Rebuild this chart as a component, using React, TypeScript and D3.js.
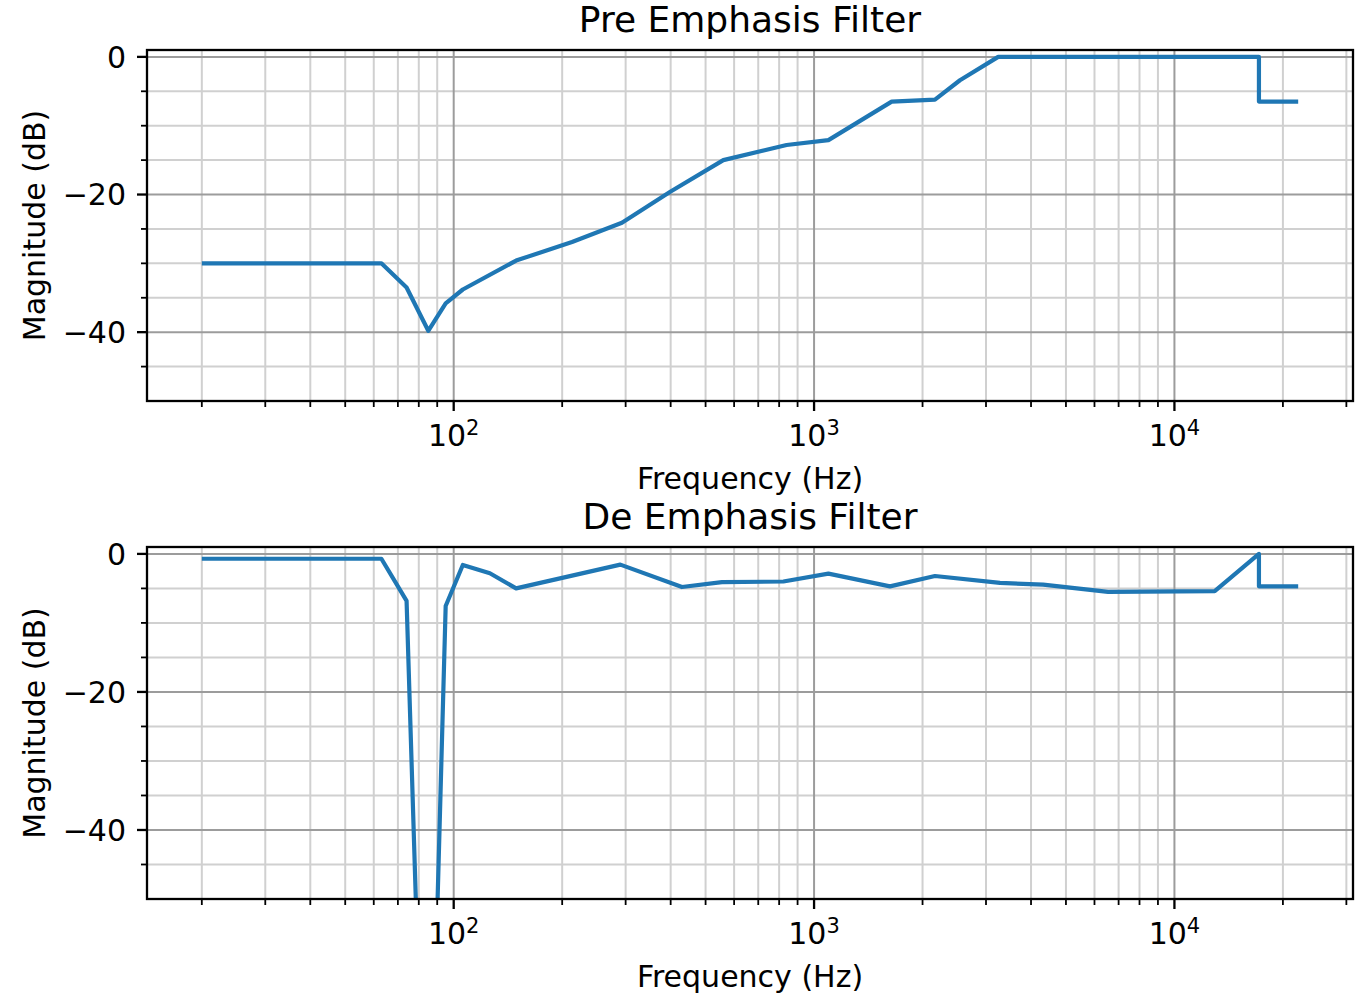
import React from "react";
import * as d3 from "d3";

// ---------- data ----------
const preFreq = [20, 63, 74, 85, 95, 106, 149, 213, 293, 399, 560, 839, 1096, 1642, 2165, 2540, 3243, 17160, 17160, 22050];
const preDb = [-30, -30, -33.5, -39.8, -35.8, -33.8, -29.6, -26.9, -24.1, -19.6, -15.0, -12.8, -12.1, -6.5, -6.2, -3.4, 0, 0, -6.5, -6.5];

const deFreq = [20, 63, 74, 84.5, 95, 106, 126, 149, 290, 430, 555, 822, 1096, 1624, 2165, 3280, 4323, 6545, 12935, 17160, 17160, 22050];
const deDb = [-0.7, -0.7, -6.8, -104, -7.55, -1.6, -2.8, -5.0, -1.55, -4.8, -4.1, -4.0, -2.85, -4.7, -3.2, -4.2, -4.45, -5.5, -5.4, 0, -4.7, -4.7];

const titles = ["Pre Emphasis Filter", "De Emphasis Filter"];
const xLabel = "Frequency (Hz)";
const yLabel = "Magnitude (dB)";
const yMajorTicks = [-40, -20, 0];
const yMinorTicks = [-45, -35, -30, -25, -15, -10, -5];
const xMajorTicks = [100, 1000, 10000];
const xMajorExp = ["2", "3", "4"];
const decades = [10, 100, 1000, 10000];
const yDomain: [number, number] = [-50, 1];

const W = 1365;
const H = 994;
const FONT = "DejaVu Sans, sans-serif";
const LINE = "#1f77b4";

const left = 147;
const right = 1353;

function Panel({ idx, top, bottom, freq, db }: { idx: number; top: number; bottom: number; freq: number[]; db: number[] }) {
  const fmin = d3.min([...preFreq, ...deFreq]) as number;
  const fmax = d3.max([...preFreq, ...deFreq]) as number;
  const lmin = Math.log10(fmin);
  const lmax = Math.log10(fmax);
  const pad = (lmax - lmin) * 0.05;
  const x = d3.scaleLog().domain([Math.pow(10, lmin - pad), Math.pow(10, lmax + pad)]).range([left, right]);
  const y = d3.scaleLinear().domain(yDomain).range([bottom, top]);
  const [d0, d1] = x.domain();
  const minorX: number[] = [];
  decades.forEach((d) => {
    for (let k = 2; k <= 9; k++) {
      const v = d * k;
      if (v >= d0 && v <= d1) minorX.push(v);
    }
  });
  const line = d3
    .line<number>()
    .x((_, i) => x(freq[i]))
    .y((v) => y(v));
  const clipId = `clip-${idx}`;
  return (
    <g>
      <defs>
        <clipPath id={clipId}>
          <rect x={left} y={top} width={right - left} height={bottom - top} />
        </clipPath>
      </defs>
      {/* minor grid */}
      {minorX.map((v) => (
        <line key={"gx" + v} x1={x(v)} x2={x(v)} y1={top} y2={bottom} stroke="#d0d0d0" strokeWidth={2} />
      ))}
      {yMinorTicks.map((v) => (
        <line key={"gy" + v} x1={left} x2={right} y1={y(v)} y2={y(v)} stroke="#d0d0d0" strokeWidth={2} />
      ))}
      {/* major grid */}
      {xMajorTicks.map((v) => (
        <line key={"Gx" + v} x1={x(v)} x2={x(v)} y1={top} y2={bottom} stroke="#9c9c9c" strokeWidth={2} />
      ))}
      {yMajorTicks.map((v) => (
        <line key={"Gy" + v} x1={left} x2={right} y1={y(v)} y2={y(v)} stroke="#9c9c9c" strokeWidth={2} />
      ))}
      {/* data */}
      <path d={line(db) || ""} fill="none" stroke={LINE} strokeWidth={4.2} strokeLinejoin="round" clipPath={`url(#${clipId})`} />
      {/* spines */}
      <rect x={left} y={top} width={right - left} height={bottom - top} fill="none" stroke="#000" strokeWidth={2.3} />
      {/* x ticks */}
      {minorX.map((v) => (
        <line key={"tx" + v} x1={x(v)} x2={x(v)} y1={bottom} y2={bottom + 6} stroke="#000" strokeWidth={1.8} />
      ))}
      {xMajorTicks.map((v, i) => (
        <g key={"Tx" + v}>
          <line x1={x(v)} x2={x(v)} y1={bottom} y2={bottom + 10} stroke="#000" strokeWidth={2.3} />
          <text x={x(v)} y={bottom + 45} textAnchor="middle" fontFamily={FONT} fontSize={30} fill="#000">
            <tspan>10</tspan>
            <tspan fontSize={21} dy={-11}>{xMajorExp[i]}</tspan>
          </text>
        </g>
      ))}
      {/* y ticks */}
      {yMinorTicks.map((v) => (
        <line key={"ty" + v} x1={left - 6} x2={left} y1={y(v)} y2={y(v)} stroke="#000" strokeWidth={1.8} />
      ))}
      {yMajorTicks.map((v) => (
        <g key={"Ty" + v}>
          <line x1={left - 10} x2={left} y1={y(v)} y2={y(v)} stroke="#000" strokeWidth={2.3} />
          <text x={left - 21} y={y(v) + 10.8} textAnchor="end" fontFamily={FONT} fontSize={30} fill="#000">
            {v < 0 ? "\u2212" + Math.abs(v) : String(v)}
          </text>
        </g>
      ))}
      {/* labels */}
      <text x={(left + right) / 2} y={bottom + 88} textAnchor="middle" fontFamily={FONT} fontSize={30} fill="#000">
        {xLabel}
      </text>
      <text
        transform={`translate(45, ${(top + bottom) / 2}) rotate(-90)`}
        textAnchor="middle"
        fontFamily={FONT}
        fontSize={30}
        fill="#000"
      >
        {yLabel}
      </text>
      <text x={(left + right) / 2} y={top - 18} textAnchor="middle" fontFamily={FONT} fontSize={36} fill="#000">
        {titles[idx]}
      </text>
    </g>
  );
}

export default function App() {
  return (
    <svg width={W} height={H} style={{ position: "absolute", left: 0, top: 0, background: "#fff" }}>
      <rect x={0} y={0} width={W} height={H} fill="#fff" />
      <Panel idx={0} top={50} bottom={401} freq={preFreq} db={preDb} />
      <Panel idx={1} top={547} bottom={899} freq={deFreq} db={deDb} />
    </svg>
  );
}
